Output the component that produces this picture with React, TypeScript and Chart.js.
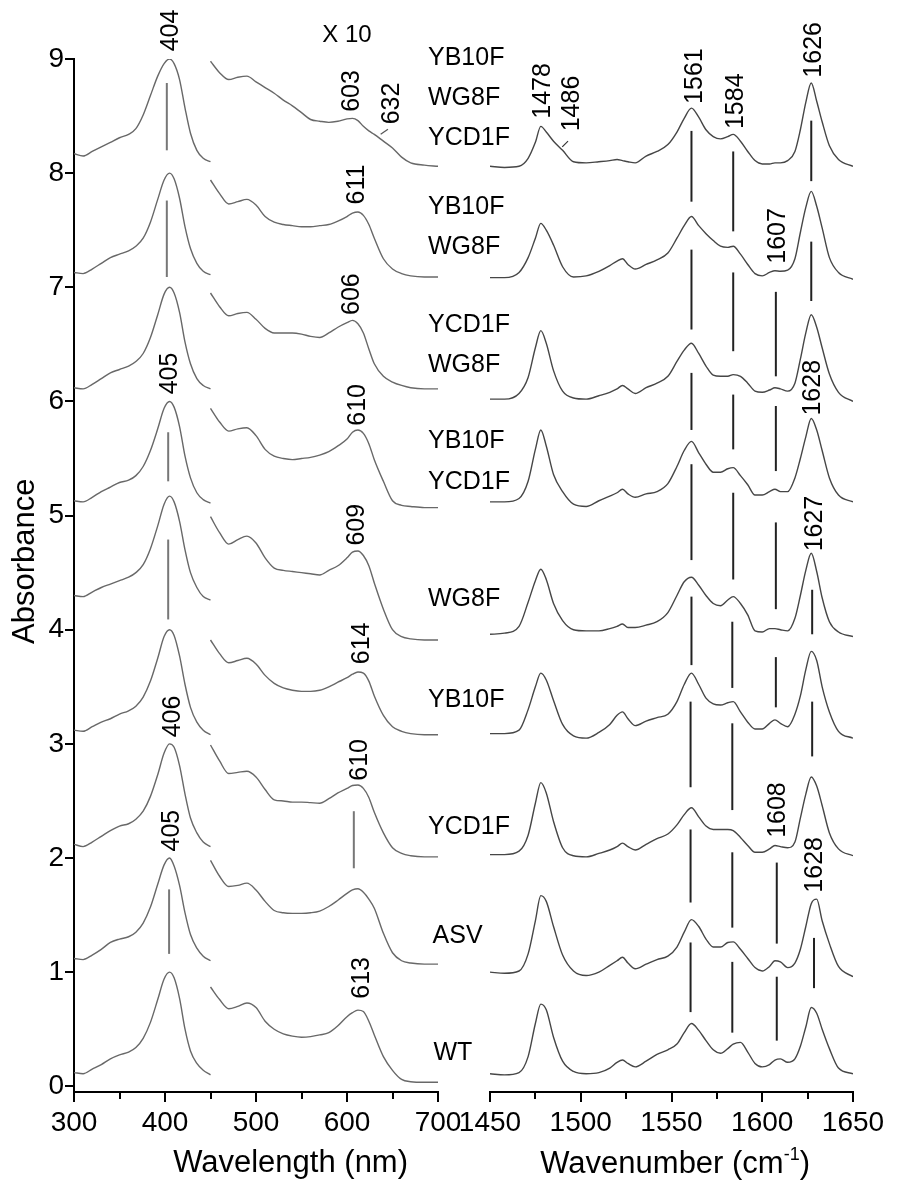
import React, { useEffect, useRef } from "react";
import { Chart, registerables } from "chart.js";

Chart.register(...registerables);

const FONT = "'Liberation Sans', Arial, Helvetica, sans-serif";

// ---------------- Left panel: absorbance vs wavelength ----------------
const SORET_NM = [300, 310, 320, 330, 340, 350, 360, 368, 376, 384, 392, 399, 405, 410, 416, 422, 428, 435, 442, 450];
const Q_NM = [450, 460, 470, 480, 490, 500, 510, 520, 530, 540, 550, 560, 570, 580, 590, 600, 606, 612, 618, 624, 630, 640, 650, 660, 670, 685, 700];

const soretWT = [0.12, 0.11, 0.15, 0.19, 0.24, 0.275, 0.30, 0.34, 0.42, 0.56, 0.76, 0.94, 1.00, 0.95, 0.77, 0.50, 0.31, 0.20, 0.14, 0.10];
const soretASV = [1.12, 1.11, 1.15, 1.20, 1.26, 1.29, 1.31, 1.35, 1.43, 1.57, 1.77, 1.94, 2.00, 1.93, 1.76, 1.52, 1.33, 1.21, 1.14, 1.10];
const soretYCD1F = [2.12, 2.10, 2.14, 2.19, 2.24, 2.28, 2.30, 2.34, 2.41, 2.54, 2.73, 2.92, 3.00, 2.97, 2.81, 2.56, 2.35, 2.22, 2.14, 2.10];
const soretYB10F = [3.12, 3.11, 3.15, 3.19, 3.22, 3.26, 3.29, 3.33, 3.41, 3.55, 3.75, 3.94, 4.00, 3.95, 3.77, 3.52, 3.32, 3.19, 3.12, 3.08];
const soretWG8F = [4.30, 4.29, 4.33, 4.37, 4.40, 4.43, 4.46, 4.50, 4.57, 4.71, 4.91, 5.10, 5.17, 5.12, 4.95, 4.70, 4.50, 4.37, 4.29, 4.26];
const soretYB10F_YCD1F = [5.13, 5.12, 5.16, 5.21, 5.25, 5.29, 5.31, 5.35, 5.43, 5.57, 5.76, 5.94, 6.00, 5.95, 5.78, 5.52, 5.33, 5.20, 5.14, 5.11];
const soretYCD1F_WG8F = [6.12, 6.11, 6.15, 6.20, 6.25, 6.28, 6.31, 6.35, 6.42, 6.56, 6.76, 6.94, 7.00, 6.95, 6.78, 6.52, 6.33, 6.20, 6.14, 6.11];
const soretYB10F_WG8F = [7.13, 7.12, 7.16, 7.21, 7.26, 7.29, 7.32, 7.36, 7.43, 7.57, 7.77, 7.94, 8.00, 7.95, 7.78, 7.53, 7.34, 7.21, 7.14, 7.11];
const soretTriple = [8.17, 8.15, 8.19, 8.23, 8.27, 8.31, 8.34, 8.39, 8.51, 8.68, 8.85, 8.96, 9.00, 8.96, 8.82, 8.57, 8.35, 8.20, 8.13, 8.10];

const qWT = [0.87, 0.76, 0.68, 0.70, 0.73, 0.69, 0.57, 0.50, 0.46, 0.44, 0.43, 0.435, 0.45, 0.47, 0.53, 0.61, 0.645, 0.667, 0.655, 0.57, 0.45, 0.26, 0.14, 0.06, 0.04, 0.035, 0.035];
const qASV = [1.98, 1.84, 1.75, 1.76, 1.78, 1.72, 1.62, 1.54, 1.52, 1.515, 1.515, 1.52, 1.535, 1.575, 1.63, 1.69, 1.72, 1.73, 1.70, 1.64, 1.56, 1.34, 1.17, 1.10, 1.08, 1.07, 1.07];
const qYCD1F = [2.99, 2.85, 2.74, 2.75, 2.76, 2.71, 2.60, 2.51, 2.50, 2.49, 2.49, 2.485, 2.48, 2.52, 2.57, 2.61, 2.635, 2.64, 2.61, 2.53, 2.40, 2.22, 2.09, 2.04, 2.02, 2.01, 2.01];
const qYB10F = [3.91, 3.79, 3.71, 3.73, 3.75, 3.70, 3.60, 3.53, 3.49, 3.47, 3.46, 3.46, 3.47, 3.50, 3.54, 3.58, 3.61, 3.63, 3.62, 3.55, 3.42, 3.25, 3.15, 3.11, 3.09, 3.08, 3.08];
const qWG8F = [4.99, 4.85, 4.75, 4.79, 4.82, 4.76, 4.63, 4.54, 4.52, 4.51, 4.50, 4.49, 4.48, 4.52, 4.56, 4.63, 4.68, 4.69, 4.65, 4.56, 4.41, 4.18, 4.00, 3.94, 3.92, 3.91, 3.91];
const qYB10F_YCD1F = [5.94, 5.82, 5.74, 5.76, 5.77, 5.70, 5.58, 5.52, 5.50, 5.49, 5.50, 5.51, 5.53, 5.56, 5.61, 5.67, 5.73, 5.75, 5.72, 5.63, 5.49, 5.30, 5.13, 5.09, 5.08, 5.07, 5.07];
const qYCD1F_WG8F = [6.95, 6.83, 6.75, 6.77, 6.78, 6.72, 6.64, 6.60, 6.60, 6.60, 6.59, 6.57, 6.56, 6.60, 6.65, 6.69, 6.71, 6.68, 6.60, 6.46, 6.33, 6.22, 6.17, 6.14, 6.12, 6.11, 6.11];
const qYB10F_WG8F = [7.94, 7.82, 7.73, 7.75, 7.77, 7.72, 7.62, 7.57, 7.55, 7.54, 7.53, 7.53, 7.54, 7.55, 7.58, 7.62, 7.65, 7.66, 7.63, 7.55, 7.43, 7.25, 7.16, 7.12, 7.10, 7.09, 7.09];
const qTriple = [8.98, 8.88, 8.82, 8.84, 8.85, 8.80, 8.75, 8.70, 8.64, 8.59, 8.53, 8.47, 8.455, 8.445, 8.455, 8.475, 8.48, 8.46, 8.41, 8.37, 8.34, 8.28, 8.22, 8.14, 8.09, 8.07, 8.06];

const SORET_SERIES = [soretWT, soretASV, soretYCD1F, soretYB10F, soretWG8F, soretYB10F_YCD1F, soretYCD1F_WG8F, soretYB10F_WG8F, soretTriple];
const Q_SERIES = [qWT, qASV, qYCD1F, qYB10F, qWG8F, qYB10F_YCD1F, qYCD1F_WG8F, qYB10F_WG8F, qTriple];

// ---------------- Right panel: Raman vs wavenumber ----------------
const RAMAN_WN = [1450, 1458, 1466, 1471, 1475, 1478, 1481, 1485, 1490, 1496, 1503, 1510, 1516, 1520, 1523, 1526, 1530, 1536, 1542, 1548, 1553, 1557, 1561, 1565, 1569, 1573, 1577, 1581, 1584, 1588, 1592, 1596, 1600, 1604, 1607, 1610, 1614, 1618, 1621, 1624, 1627, 1630, 1633, 1637, 1642, 1650];

const ramanWT = [0.11, 0.10, 0.12, 0.26, 0.55, 0.72, 0.67, 0.43, 0.22, 0.13, 0.11, 0.12, 0.16, 0.21, 0.23, 0.20, 0.17, 0.22, 0.28, 0.32, 0.37, 0.47, 0.55, 0.49, 0.40, 0.32, 0.29, 0.33, 0.37, 0.385, 0.30, 0.20, 0.17, 0.19, 0.23, 0.24, 0.21, 0.24, 0.35, 0.52, 0.69, 0.64, 0.50, 0.33, 0.16, 0.11];
const ramanASV = [1.00, 0.99, 1.01, 1.16, 1.45, 1.67, 1.62, 1.40, 1.15, 1.01, 0.97, 1.00, 1.06, 1.10, 1.13, 1.08, 1.03, 1.07, 1.11, 1.14, 1.22, 1.35, 1.46, 1.40, 1.29, 1.22, 1.22, 1.26, 1.265, 1.20, 1.12, 1.04, 1.01, 1.05, 1.10, 1.09, 1.04, 1.08, 1.20, 1.40, 1.60, 1.64, 1.45, 1.25, 1.05, 0.96];
const ramanYCD1F = [2.03, 2.03, 2.06, 2.20, 2.48, 2.66, 2.57, 2.32, 2.09, 2.02, 2.01, 2.04, 2.07, 2.10, 2.13, 2.10, 2.07, 2.12, 2.17, 2.21, 2.29, 2.38, 2.44, 2.36, 2.28, 2.25, 2.25, 2.25, 2.24, 2.18, 2.11, 2.05, 2.05, 2.08, 2.11, 2.10, 2.09, 2.14, 2.35, 2.56, 2.71, 2.63, 2.46, 2.22, 2.08, 2.02];
const ramanYB10F = [3.09, 3.09, 3.12, 3.30, 3.50, 3.62, 3.56, 3.38, 3.17, 3.07, 3.05, 3.10, 3.17, 3.25, 3.28, 3.22, 3.16, 3.20, 3.23, 3.26, 3.37, 3.52, 3.62, 3.52, 3.40, 3.35, 3.34, 3.36, 3.37, 3.28, 3.19, 3.13, 3.13, 3.18, 3.21, 3.18, 3.15, 3.26, 3.42, 3.65, 3.81, 3.73, 3.50, 3.28, 3.11, 3.05];
const ramanWG8F = [3.96, 3.97, 4.03, 4.24, 4.43, 4.53, 4.44, 4.23, 4.08, 4.00, 3.99, 3.99, 4.01, 4.03, 4.05, 4.02, 4.02, 4.04, 4.07, 4.15, 4.30, 4.42, 4.46, 4.39, 4.30, 4.23, 4.21, 4.26, 4.29, 4.23, 4.13, 3.99, 3.98, 4.01, 4.01, 4.00, 3.99, 4.10, 4.30, 4.52, 4.67, 4.51, 4.28, 4.07, 3.98, 3.94];
const ramanYB10F_YCD1F = [5.12, 5.12, 5.15, 5.30, 5.58, 5.75, 5.61, 5.36, 5.21, 5.10, 5.08, 5.13, 5.17, 5.20, 5.23, 5.19, 5.16, 5.19, 5.21, 5.28, 5.43, 5.57, 5.65, 5.55, 5.45, 5.38, 5.38, 5.41, 5.42, 5.35, 5.27, 5.18, 5.18, 5.21, 5.23, 5.21, 5.21, 5.33, 5.50, 5.69, 5.85, 5.75, 5.57, 5.33, 5.18, 5.12];
const ramanYCD1F_WG8F = [6.02, 6.02, 6.07, 6.21, 6.47, 6.62, 6.51, 6.27, 6.09, 6.03, 6.02, 6.05, 6.08, 6.11, 6.14, 6.11, 6.07, 6.12, 6.16, 6.22, 6.35, 6.45, 6.51, 6.42, 6.31, 6.23, 6.22, 6.22, 6.235, 6.22, 6.16, 6.09, 6.08, 6.10, 6.12, 6.11, 6.09, 6.16, 6.37, 6.60, 6.76, 6.65, 6.47, 6.24, 6.08, 6.00];
const ramanYB10F_WG8F = [7.085, 7.085, 7.13, 7.26, 7.43, 7.56, 7.50, 7.37, 7.18, 7.09, 7.10, 7.14, 7.19, 7.23, 7.25, 7.20, 7.16, 7.20, 7.24, 7.30, 7.43, 7.54, 7.62, 7.54, 7.47, 7.41, 7.36, 7.35, 7.36, 7.29, 7.20, 7.12, 7.10, 7.13, 7.145, 7.14, 7.15, 7.25, 7.48, 7.70, 7.84, 7.71, 7.52, 7.26, 7.13, 7.07];
const ramanTriple = [8.06, 8.05, 8.06, 8.13, 8.27, 8.41, 8.36, 8.28, 8.20, 8.10, 8.09, 8.10, 8.11, 8.12, 8.11, 8.10, 8.09, 8.15, 8.19, 8.25, 8.36, 8.48, 8.57, 8.49, 8.38, 8.32, 8.30, 8.32, 8.34, 8.28, 8.19, 8.11, 8.08, 8.08, 8.09, 8.09, 8.11, 8.19, 8.38, 8.62, 8.79, 8.63, 8.45, 8.24, 8.12, 8.06];

const RAMAN_SERIES = [ramanWT, ramanASV, ramanYCD1F, ramanYB10F, ramanWG8F, ramanYB10F_YCD1F, ramanYCD1F_WG8F, ramanYB10F_WG8F, ramanTriple];

// ---------------- Tick values ----------------
const NM_TICKS = [300, 400, 500, 600, 700];
const NM_MINOR = [350, 450, 550, 650];
const WN_TICKS = [1450, 1500, 1550, 1600, 1650];
const WN_MINOR = [1475, 1525, 1575, 1625];
const ABS_TICKS = [0, 1, 2, 3, 4, 5, 6, 7, 8, 9];

// ---------------- Annotations (data units) ----------------
const LEFT_MARKERS = [
  { x: 402, y0: 8.2, y1: 8.79 },
  { x: 402, y0: 7.09, y1: 7.76 },
  { x: 403.5, y0: 5.3, y1: 5.73 },
  { x: 403.5, y0: 4.09, y1: 4.79 },
  { x: 404.5, y0: 1.16, y1: 1.725 },
  { x: 607.5, y0: 1.91, y1: 2.41 },
];

const RAMAN_MARKERS = [
  { x: 1561, y0: 7.75, y1: 8.37 }, { x: 1561, y0: 6.63, y1: 7.33 }, { x: 1561, y0: 5.75, y1: 6.25 },
  { x: 1561, y0: 4.61, y1: 5.45 }, { x: 1561, y0: 3.69, y1: 4.29 }, { x: 1560.5, y0: 2.62, y1: 3.37 },
  { x: 1560.5, y0: 1.61, y1: 2.25 }, { x: 1560.5, y0: 0.65, y1: 1.26 },
  { x: 1584, y0: 7.49, y1: 8.19 }, { x: 1584, y0: 6.44, y1: 7.13 }, { x: 1584, y0: 5.58, y1: 6.06 },
  { x: 1584, y0: 4.44, y1: 5.2 }, { x: 1583.5, y0: 3.49, y1: 4.07 }, { x: 1583.5, y0: 2.42, y1: 3.18 },
  { x: 1583.5, y0: 1.39, y1: 2.05 }, { x: 1583.5, y0: 0.47, y1: 1.09 },
  { x: 1607.5, y0: 6.22, y1: 6.96 }, { x: 1607.5, y0: 5.39, y1: 5.96 }, { x: 1607.5, y0: 4.18, y1: 4.94 },
  { x: 1607.5, y0: 3.32, y1: 3.76 }, { x: 1608, y0: 1.25, y1: 1.96 }, { x: 1608, y0: 0.4, y1: 0.96 },
  { x: 1627, y0: 7.93, y1: 8.46 }, { x: 1627, y0: 6.88, y1: 7.4 }, { x: 1627.5, y0: 3.96, y1: 4.35 },
  { x: 1627.5, y0: 2.89, y1: 3.37 }, { x: 1628.5, y0: 0.86, y1: 1.3 },
];

const LEFT_PEAK_LABELS = [
  { t: "404", x: 406.6, y: 9.25 },
  { t: "603", x: 605.5, y: 8.72 },
  { t: "632", x: 649.5, y: 8.61 },
  { t: "611", x: 611, y: 7.9 },
  { t: "606", x: 605.5, y: 6.94 },
  { t: "405", x: 405.5, y: 6.245 },
  { t: "610", x: 612, y: 5.97 },
  { t: "609", x: 611, y: 4.92 },
  { t: "614", x: 616.5, y: 3.88 },
  { t: "406", x: 408.8, y: 3.24 },
  { t: "610", x: 614, y: 2.86 },
  { t: "405", x: 407.7, y: 2.24 },
  { t: "613", x: 616.5, y: 0.95 },
];

const RAMAN_PEAK_LABELS = [
  { t: "1478", x: 1479.2, y: 8.72 },
  { t: "1486", x: 1495.2, y: 8.61 },
  { t: "1561", x: 1563, y: 8.85 },
  { t: "1584", x: 1585.5, y: 8.63 },
  { t: "1626", x: 1628.5, y: 9.08 },
  { t: "1607", x: 1608.7, y: 7.45 },
  { t: "1628", x: 1628, y: 6.12 },
  { t: "1627", x: 1629, y: 4.93 },
  { t: "1608", x: 1608.7, y: 2.42 },
  { t: "1628", x: 1629.2, y: 1.94 },
];

const LEFT_POINTERS = [{ x0: 637, y0: 8.34, x1: 645, y1: 8.385 }];
const RAMAN_POINTERS = [{ x0: 1489.8, y0: 8.23, x1: 1493, y1: 8.28 }];

const SAMPLE_LABELS = [
  { t: "YB10F", x: 689, y: 9.01 },
  { t: "WG8F", x: 689, y: 8.66 },
  { t: "YCD1F", x: 689, y: 8.31 },
  { t: "YB10F", x: 689, y: 7.7 },
  { t: "WG8F", x: 689, y: 7.35 },
  { t: "YCD1F", x: 689, y: 6.67 },
  { t: "WG8F", x: 689, y: 6.32 },
  { t: "YB10F", x: 689, y: 5.65 },
  { t: "YCD1F", x: 689, y: 5.29 },
  { t: "WG8F", x: 689, y: 4.27 },
  { t: "YB10F", x: 689, y: 3.38 },
  { t: "YCD1F", x: 689, y: 2.27 },
  { t: "ASV", x: 694, y: 1.32 },
  { t: "WT", x: 695, y: 0.29 },
];

const SCALE_LABEL = { t: "X 10", x: 600, y: 9.21 };

// ---------------- helpers ----------------
const pts = (xs: number[], ys: number[]) => xs.map((x, i) => ({ x, y: ys[i] }));

const SPEC_LEFT = "#686868";
const SPEC_RIGHT = "#464646";

function lineDs(data: any[], color: string, width: number, smooth = true) {
  return {
    data,
    borderColor: color,
    borderWidth: width,
    pointRadius: 0,
    fill: false,
    tension: 0,
    cubicInterpolationMode: smooth ? "monotone" : "default",
  };
}

function vText(ctx: CanvasRenderingContext2D, text: string, x: number, y: number, font: string) {
  ctx.save();
  ctx.translate(x, y);
  ctx.rotate(-Math.PI / 2);
  ctx.font = font;
  ctx.fillStyle = "#000";
  ctx.textAlign = "center";
  ctx.textBaseline = "middle";
  ctx.fillText(text, 0, 0);
  ctx.restore();
}

function drawMinor(ctx: CanvasRenderingContext2D, xs: any, minor: number[]) {
  ctx.save();
  ctx.strokeStyle = "#000";
  ctx.lineWidth = 2;
  for (const v of minor) {
    const px = Math.round(xs.getPixelForValue(v));
    ctx.beginPath();
    ctx.moveTo(px, xs.top);
    ctx.lineTo(px, xs.top + 7);
    ctx.stroke();
  }
  ctx.restore();
}

function axisX(min: number, max: number, ticks: number[]) {
  return {
    type: "linear",
    min,
    max,
    position: "bottom",
    afterBuildTicks: (s: any) => {
      s.ticks = ticks.map((v) => ({ value: v }));
    },
    afterFit: (s: any) => {
      s.height = 91;
    },
    ticks: {
      callback: (v: any) => String(v),
      font: { size: 28, family: FONT },
      color: "#000",
      padding: 4,
      maxRotation: 0,
      autoSkip: false,
    },
    grid: {
      display: true,
      drawOnChartArea: false,
      drawTicks: true,
      tickLength: 10,
      tickWidth: 2,
      tickColor: "#000",
      color: "#000",
      lineWidth: 2,
    },
    border: { display: true, color: "#000", width: 2 },
  };
}

const leftPlugin = {
  id: "leftDecor",
  afterDraw(chart: any) {
    const ctx = chart.ctx as CanvasRenderingContext2D;
    const xs = chart.scales.x;
    const ys = chart.scales.y;
    drawMinor(ctx, xs, NM_MINOR);
    for (const l of LEFT_PEAK_LABELS) {
      vText(ctx, l.t, xs.getPixelForValue(l.x), ys.getPixelForValue(l.y), `25px ${FONT}`);
    }
    ctx.save();
    ctx.fillStyle = "#000";
    ctx.font = `24px ${FONT}`;
    ctx.textAlign = "center";
    ctx.textBaseline = "middle";
    ctx.fillText(SCALE_LABEL.t, xs.getPixelForValue(SCALE_LABEL.x), ys.getPixelForValue(SCALE_LABEL.y));
    ctx.font = `25px ${FONT}`;
    ctx.textAlign = "left";
    for (const s of SAMPLE_LABELS) {
      ctx.fillText(s.t, xs.getPixelForValue(s.x), ys.getPixelForValue(s.y));
    }
    ctx.strokeStyle = "#555";
    ctx.lineWidth = 1.2;
    for (const p of LEFT_POINTERS) {
      ctx.beginPath();
      ctx.moveTo(xs.getPixelForValue(p.x0), ys.getPixelForValue(p.y0));
      ctx.lineTo(xs.getPixelForValue(p.x1), ys.getPixelForValue(p.y1));
      ctx.stroke();
    }
    ctx.font = `31px ${FONT}`;
    ctx.textAlign = "center";
    ctx.fillText("Wavelength (nm)", xs.getPixelForValue(538), chart.height - 20);
    ctx.restore();
    vText(ctx, "Absorbance", 25, ys.getPixelForValue(4.6), `31px ${FONT}`);
  },
};

const rightPlugin = {
  id: "rightDecor",
  afterDraw(chart: any) {
    const ctx = chart.ctx as CanvasRenderingContext2D;
    const xs = chart.scales.x;
    const ys = chart.scales.y;
    drawMinor(ctx, xs, WN_MINOR);
    for (const l of RAMAN_PEAK_LABELS) {
      vText(ctx, l.t, xs.getPixelForValue(l.x), ys.getPixelForValue(l.y), `25px ${FONT}`);
    }
    ctx.save();
    ctx.strokeStyle = "#333";
    ctx.lineWidth = 1.2;
    for (const p of RAMAN_POINTERS) {
      ctx.beginPath();
      ctx.moveTo(xs.getPixelForValue(p.x0), ys.getPixelForValue(p.y0));
      ctx.lineTo(xs.getPixelForValue(p.x1), ys.getPixelForValue(p.y1));
      ctx.stroke();
    }
    const main1 = "Wavenumber (cm";
    const sup = "-1";
    const main2 = ")";
    const big = `31px ${FONT}`;
    const small = `18px ${FONT}`;
    ctx.fillStyle = "#000";
    ctx.textBaseline = "alphabetic";
    ctx.textAlign = "left";
    ctx.font = big;
    const w1 = ctx.measureText(main1).width;
    const w3 = ctx.measureText(main2).width;
    ctx.font = small;
    const w2 = ctx.measureText(sup).width;
    const total = w1 + w2 + w3;
    const cx = xs.getPixelForValue(1552);
    const base = chart.height - 10;
    let x = cx - total / 2;
    ctx.font = big;
    ctx.fillText(main1, x, base);
    x += w1;
    ctx.font = small;
    ctx.fillText(sup, x, base - 13);
    x += w2;
    ctx.font = big;
    ctx.fillText(main2, x, base);
    ctx.restore();
  },
};

function leftConfig(): any {
  const datasets: any[] = [];
  SORET_SERIES.forEach((s) => datasets.push(lineDs(pts(SORET_NM, s), SPEC_LEFT, 1.4)));
  Q_SERIES.forEach((s) => datasets.push(lineDs(pts(Q_NM, s), SPEC_LEFT, 1.4)));
  LEFT_MARKERS.forEach((m) =>
    datasets.push(lineDs([{ x: m.x, y: m.y0 }, { x: m.x, y: m.y1 }], "#777", 2, false))
  );
  return {
    type: "line",
    data: { datasets },
    options: {
      responsive: false,
      animation: false,
      devicePixelRatio: 1,
      events: [],
      layout: { padding: { left: 0, right: 82, top: 59, bottom: 0 } },
      plugins: { legend: { display: false }, tooltip: { enabled: false } },
      scales: {
        x: axisX(300, 700, NM_TICKS),
        y: {
          type: "linear",
          min: -0.05,
          max: 9,
          afterBuildTicks: (s: any) => {
            s.ticks = ABS_TICKS.map((v) => ({ value: v }));
          },
          afterFit: (s: any) => {
            s.width = 74;
          },
          ticks: {
            callback: (v: any) => String(v),
            font: { size: 28, family: FONT },
            color: "#000",
            padding: 1,
          },
          grid: {
            display: true,
            drawOnChartArea: false,
            drawTicks: true,
            tickLength: 9,
            tickWidth: 2,
            tickColor: "#000",
            color: "#000",
            lineWidth: 2,
          },
          border: { display: true, color: "#000", width: 2 },
        },
      },
    },
    plugins: [leftPlugin],
  };
}

function rightConfig(): any {
  const datasets: any[] = [];
  RAMAN_SERIES.forEach((s) => datasets.push(lineDs(pts(RAMAN_WN, s), SPEC_RIGHT, 1.4)));
  RAMAN_MARKERS.forEach((m) =>
    datasets.push(lineDs([{ x: m.x, y: m.y0 }, { x: m.x, y: m.y1 }], "#222", 2, false))
  );
  return {
    type: "line",
    data: { datasets },
    options: {
      responsive: false,
      animation: false,
      devicePixelRatio: 1,
      events: [],
      layout: { padding: { left: 50, right: 44, top: 59, bottom: 0 } },
      plugins: { legend: { display: false }, tooltip: { enabled: false } },
      scales: {
        x: axisX(1450, 1650, WN_TICKS),
        y: { type: "linear", min: -0.05, max: 9, display: false },
      },
    },
    plugins: [rightPlugin],
  };
}

export default function App() {
  const leftRef = useRef<HTMLCanvasElement>(null);
  const rightRef = useRef<HTMLCanvasElement>(null);
  useEffect(() => {
    Chart.defaults.font.family = FONT;
    const l = new Chart(leftRef.current as HTMLCanvasElement, leftConfig());
    const r = new Chart(rightRef.current as HTMLCanvasElement, rightConfig());
    return () => {
      l.destroy();
      r.destroy();
    };
  }, []);
  return (
    <div style={{ position: "absolute", left: 0, top: 0, width: 897, height: 1183, background: "#fff" }}>
      <canvas ref={leftRef} width={520} height={1183} style={{ position: "absolute", left: 0, top: 0 }} />
      <canvas ref={rightRef} width={457} height={1183} style={{ position: "absolute", left: 440, top: 0 }} />
    </div>
  );
}
